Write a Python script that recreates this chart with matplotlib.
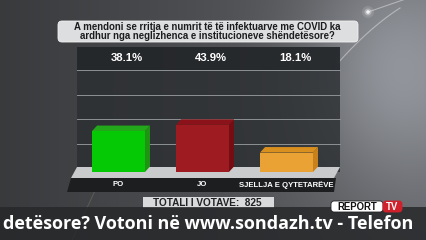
import numpy as np
import matplotlib
matplotlib.use("Agg")
import matplotlib.pyplot as plt
from matplotlib.patches import Polygon, FancyBboxPatch, Rectangle

# poll data
question = ["A mendoni se rritja e numrit të të infektuarve me COVID ka",
            "ardhur nga neglizhenca e institucioneve shëndetësore?"]
categories = ["PO", "JO", "SJELLJA E QYTETARËVE"]
percents = [38.1, 43.9, 18.1]
total_votes = 825
ticker = "detësore? Votoni në www.sondazh.tv - Telefon"

front_colors = ["#05c905", "#9e1b22", "#e9a233"]
side_colors = ["#1f9412", "#760d12", "#c9821b"]
top_colors = ["#22a81a", "#8a1218", "#d9901f"]

W, H = 426, 240
fig = plt.figure(figsize=(W / 100, H / 100), dpi=100)

# background in pixel coordinates
bg = fig.add_axes([0, 0, 1, 1])
bg.set_xlim(0, W)
bg.set_ylim(H, 0)
bg.axis("off")

yy, xx = np.mgrid[0:H, 0:W]
base = 0.23 + 0.17 * (xx / W)
glow = 0.2 * np.exp(-(((xx - 395) / 90.0) ** 2 + ((yy - 70) / 110.0) ** 2))
lum = np.clip(base + glow, 0, 1)
img = np.dstack([lum * 0.97, lum * 0.99, lum * 1.03])
bg.imshow(np.clip(img, 0, 1), extent=(0, W, H, 0), aspect="auto", zorder=0)

# flare
t = np.linspace(0, 1, 60)
fx = 338 + 62 * t
fy = 63 - 70 * t + 15 * t ** 2
bg.plot(fx, fy, color="white", lw=0.8, alpha=0.4, zorder=1)
bg.plot([368, 426], [12, -8], color="white", lw=0.8, alpha=0.4, zorder=1)
for r, a in [(6, 0.12), (3.5, 0.3), (1.8, 0.8)]:
    bg.add_patch(plt.Circle((368, 12), r, color="white", alpha=a, lw=0, zorder=1))
bg.plot([72, 100], [240, 180], color="white", lw=0.6, alpha=0.15, zorder=1)

# chart panel
bg.add_patch(Rectangle((77, 47), 263, 125, color="#2b2e31", alpha=0.8, lw=0, zorder=2))
bg.add_patch(Rectangle((77, 47), 263, 23, color="#1f2225", alpha=0.6, lw=0, zorder=2))
for gy in [70, 95, 119, 144]:
    bg.plot([77, 340], [gy, gy], color="#8e9194", lw=0.7, zorder=3)

# floor and label band
bg.add_patch(Polygon([(77, 167), (340, 167), (334, 178), (71, 178)],
                     closed=True, color="#c9cbcd", lw=0, zorder=3))
bg.add_patch(Polygon([(71, 178), (336, 178), (334, 192), (67, 192)],
                     closed=True, color="#1c1e20", lw=0, zorder=3))

# question box
bg.add_patch(FancyBboxPatch((58, 21), 300, 21, boxstyle="round,pad=0,rounding_size=4",
                            fc="#dddedf", ec="#f2f2f2", lw=0.6, zorder=4))
bg.text(207, 31.5, "\n".join(question), ha="center", va="center", fontsize=6.9,
        family="Liberation Sans", weight="bold", color="#1a1c1e",
        linespacing=0.9, zorder=5)

# chart axes: bars through data scales
ax = fig.add_axes([77 / W, (H - 172) / H, 263 / W, 125 / H], zorder=3)
ax.patch.set_visible(False)
ax.axis("off")
ax.set_xlim(-0.494, 2.637)
ax.set_ylim(0, 116.3)

xs = np.arange(len(percents))
bw = 0.63
dx, dy = 0.06, 5.1
ax.bar(xs, percents, width=bw, color=front_colors, zorder=3)
for x, v, sc, tc in zip(xs, percents, side_colors, top_colors):
    l, r = x - bw / 2, x + bw / 2
    ax.add_patch(Polygon([(r, 0), (r + dx, dy), (r + dx, v + dy), (r, v)],
                         closed=True, color=sc, lw=0, zorder=2))
    ax.add_patch(Polygon([(l, v), (l + dx, v + dy), (r + dx, v + dy), (r, v)],
                         closed=True, color=tc, lw=0, zorder=2))

for x, v, c in zip(xs, percents, categories):
    ax.text(x + 0.1, 0.912, f"{v}%", transform=ax.get_xaxis_transform(),
            ha="center", va="center", fontsize=8.2, family="Liberation Sans",
            weight="bold", color="white")
    ax.text(x, -0.104, c, transform=ax.get_xaxis_transform(),
            ha="center", va="center", fontsize=5.6, family="Liberation Sans",
            weight="bold", color="white")

# total votes box
bg.add_patch(Rectangle((143, 197), 131, 11, color="#d9dadb", lw=0, zorder=4))
bg.text(207, 202.8, f"TOTALI I VOTAVE:  {total_votes}", ha="center", va="center",
        fontsize=7.2, family="Liberation Sans", weight="bold", color="#1f2124", zorder=5)

# ticker band
bg.add_patch(Rectangle((0, 207), W, 33, color="#26282a", alpha=0.85, lw=0, zorder=4))
bg.text(3, 224, ticker, ha="left", va="center", fontsize=13,
        family="Open Sans", weight="bold", color="white", zorder=5)

# logo
bg.add_patch(FancyBboxPatch((331, 201), 52, 11, boxstyle="round,pad=0,rounding_size=3",
                            fc="white", ec="#222222", lw=0.6, zorder=6))
bg.add_patch(FancyBboxPatch((383, 201), 19, 11, boxstyle="round,pad=0,rounding_size=3",
                            fc="#d0202b", ec="#d0202b", lw=0.6, zorder=6))
bg.text(357, 206.8, "REPORT", ha="center", va="center", fontsize=6.9,
        family="Liberation Sans", weight="bold", color="#111111", zorder=7)
bg.text(392.5, 206.8, "TV", ha="center", va="center", fontsize=6.9,
        family="Liberation Sans", weight="bold", color="white", zorder=7)

fig.savefig("out.png", dpi=100)
